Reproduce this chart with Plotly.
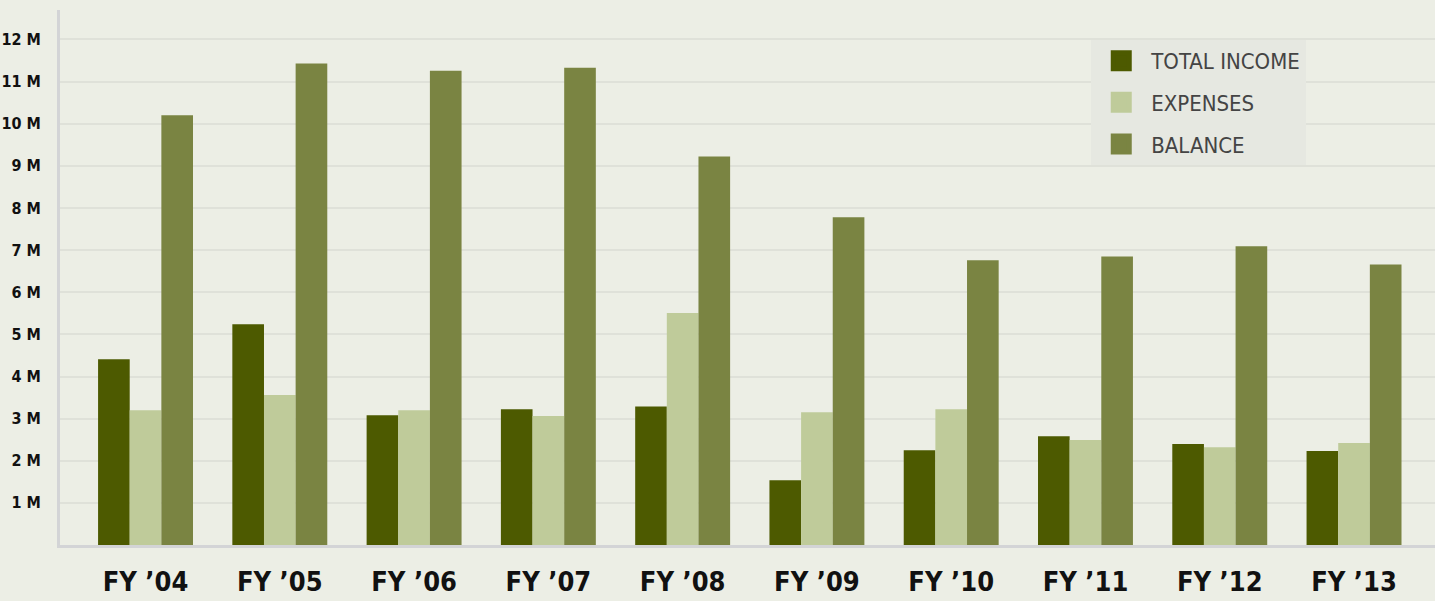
import plotly.graph_objects as go

categories = ["FY ’04", "FY ’05", "FY ’06", "FY ’07", "FY ’08",
              "FY ’09", "FY ’10", "FY ’11", "FY ’12", "FY ’13"]
total_income = [4.41, 5.24, 3.08, 3.22, 3.29, 1.54, 2.25, 2.58, 2.40, 2.23]
expenses = [3.20, 3.56, 3.20, 3.06, 5.51, 3.15, 3.22, 2.49, 2.32, 2.42]
balance = [10.20, 11.43, 11.26, 11.33, 9.22, 7.78, 6.76, 6.85, 7.09, 6.66]
y_ticks = list(range(1, 13))
y_tick_labels = [f"{v} M" for v in y_ticks]

BG = "#eceee5"
FONT = "DejaVu Sans Condensed"

fig = go.Figure()
series = [
    ("TOTAL INCOME", total_income, "#4d5a00"),
    ("EXPENSES", expenses, "#bfcb9a"),
    ("BALANCE", balance, "#7a8442"),
]
for name, vals, col in series:
    fig.add_trace(go.Bar(
        name=name, x=list(range(len(categories))), y=vals,
        marker=dict(color=col, line=dict(width=0)),
        showlegend=False, legendgroup=name,
    ))
# legend entries (larger square swatches)
for name, vals, col in series:
    fig.add_trace(go.Scatter(
        name=name, x=[None], y=[None], mode="markers",
        marker=dict(symbol="square", size=16, color=col,
                    line=dict(width=5, color=col)),
        showlegend=True, legendgroup=name,
    ))

fig.update_layout(
    width=1435, height=601,
    paper_bgcolor=BG, plot_bgcolor=BG,
    barmode="group", bargap=0.293, bargroupgap=0,
    margin=dict(l=60, r=0, t=10, b=56),
    showlegend=True,
    legend=dict(
        x=0.750, y=0.944, xanchor="left", yanchor="top",
        bgcolor="#e6e8e1", borderwidth=0,
        font=dict(family=FONT, size=22, color="#444444"),
        tracegroupgap=10, itemsizing="trace", itemwidth=50,
    ),
    xaxis=dict(
        range=[-0.637, 9.603],
        tickvals=list(range(len(categories))), ticktext=categories,
        tickfont=dict(family=FONT, size=27, color="#111111", weight="bold"),
        showgrid=False, zeroline=False,
        showline=True, linecolor="#d3d4d6", linewidth=3,
        ticks="", ticklabelstandoff=11, automargin=False,
    ),
    yaxis=dict(
        range=[0, 12.7],
        tickvals=y_ticks, ticktext=y_tick_labels,
        tickfont=dict(family=FONT, size=16, color="#111111", weight="bold"),
        showgrid=True, gridcolor="#dfe1d9", gridwidth=1.5,
        zeroline=False,
        showline=True, linecolor="#d3d4d6", linewidth=3,
        ticks="", ticklabelstandoff=13, automargin=False,
    ),
)

fig.write_html(
    "out.html",
    config={"displayModeBar": False},
    post_script="document.body.style.margin='0';document.body.style.background='%s';" % BG,
)
